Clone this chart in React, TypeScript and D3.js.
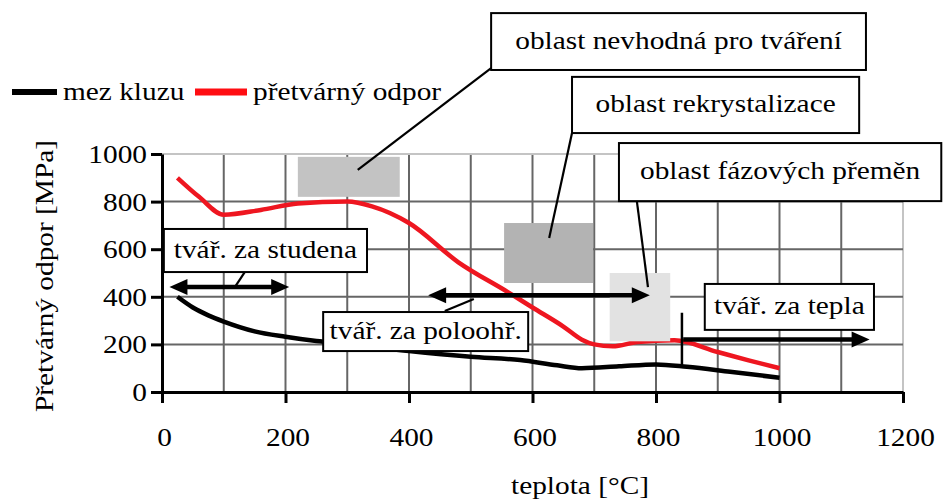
import React, { useEffect, useRef } from 'react'
import * as d3 from 'd3'

const W = 943
const H = 499

// teplota [°C], MPa
const mezKluzu: [number, number][] = [
    [25, 400], [50, 355], [75, 322], [100, 296], [150, 255], [200, 232], [250, 214], [300, 202],
    [400, 172], [500, 148], [580, 134], [640, 112], [680, 100], [740, 108], [800, 116], [850, 106],
    [920, 85], [1000, 60],
]
const pretvarnyOdpor: [number, number][] = [
    [25, 900], [60, 820], [100, 745], [160, 765], [220, 792], [300, 800], [340, 780], [400, 710],
    [480, 545], [560, 420], [600, 355], [650, 275], [680, 220], [700, 200], [730, 192], [770, 210],
    [830, 217], [900, 168], [950, 133], [1000, 100],
]

const xTicks = [0, 200, 400, 600, 800, 1000, 1200]
const yTicks = [0, 200, 400, 600, 800, 1000]

// shaded areas
const regionX = [[220, 385], [554, 698], [725, 823]]
const regionY = [[820, 988], [458, 710], [213, 500]]
const regionFill = ['#c3c3c3', '#b3b3b3', '#e2e2e2']

// callouts
const calloutLabels = ['oblast nevhodná pro tváření', 'oblast rekrystalizace', 'oblast fázových přeměn',
    'tvář. za studena', 'tvář. za poloohř.', 'tvář. za tepla']
const calloutX = [[533, 1140], [664, 1129], [740, 1262], [3, 332], [261, 593], [879, 1153]]
const calloutY = [[1353, 1592], [1088, 1324], [802, 1046], [504, 685], [172, 336], [261, 454]]

// leader lines [x1, y1, x2, y2]
const leaders = [
    [533, 1361, 317, 933], [664, 1088, 627, 647], [769, 802, 787, 441],
    [134, 504, 118, 441], [458, 340, 505, 391],
]

// arrows [x1, x2, y, twoHeads]
const arrows: [number, number, number, boolean][] = [
    [12, 206, 441, true], [431, 790, 406, true], [844, 1146, 221, false],
]
const warmMark = [842, 106, 333]

const FONT = '"Liberation Serif"'

const App = () => {
    const svgRef = useRef<SVGSVGElement>(null)

    useEffect(() => {
        const svg = d3.select(svgRef.current)
        svg.selectAll('*').remove()

        const fs = 25.5

        const x = d3.scaleLinear().domain([0, 1200]).range([162, 903])
        const y = d3.scaleLinear().domain([0, 1000]).range([392, 154])

        // grid
        svg.append('g').selectAll('line')
            .data(d3.range(100, 1201, 100))
            .join('line')
            .attr('x1', d => x(d)).attr('x2', d => x(d))
            .attr('y1', y(0)).attr('y2', y(1000))
            .attr('stroke', d => d === 1200 ? '#c4c4c4' : '#666')
            .attr('stroke-width', 2)
        svg.append('g').selectAll('line')
            .data(d3.range(200, 1001, 200))
            .join('line')
            .attr('x1', x(0)).attr('x2', x(1200))
            .attr('y1', d => y(d)).attr('y2', d => y(d))
            .attr('stroke', d => d === 1000 ? '#c4c4c4' : '#666')
            .attr('stroke-width', 2)

        // data lines
        const line = d3.line<[number, number]>()
            .x(d => x(d[0])).y(d => y(d[1]))
            .curve(d3.curveMonotoneX)
        svg.append('path').attr('d', line(mezKluzu)).attr('fill', 'none')
            .attr('stroke', '#000').attr('stroke-width', 4.5).attr('stroke-linejoin', 'round')
        svg.append('path').attr('d', line(pretvarnyOdpor)).attr('fill', 'none')
            .attr('stroke', '#ee1620').attr('stroke-width', 4.5).attr('stroke-linejoin', 'round')

        // shaded regions
        svg.append('g').selectAll('rect')
            .data(regionX)
            .join('rect')
            .attr('x', d => x(d[0]))
            .attr('width', d => x(d[1]) - x(d[0]))
            .attr('y', (d, i) => y(regionY[i][1]))
            .attr('height', (d, i) => y(regionY[i][0]) - y(regionY[i][1]))
            .attr('fill', (d, i) => regionFill[i])

        // axes
        const xAxis = svg.append('g')
            .attr('transform', `translate(0,${y(0)})`)
            .call(d3.axisBottom(x).tickValues(xTicks).tickSize(11).tickSizeOuter(0).tickFormat(d3.format('d')))
        const yAxis = svg.append('g')
            .attr('transform', `translate(${x(0)},0)`)
            .call(d3.axisLeft(y).tickValues(yTicks).tickSize(11).tickSizeOuter(0).tickFormat(d3.format('d')))
        for (const ax of [xAxis, yAxis]) {
            ax.attr('font-family', null).attr('font-size', null)
            ax.select('.domain').attr('stroke', '#000').attr('stroke-width', 3)
            ax.selectAll('.tick line').attr('stroke', '#000').attr('stroke-width', 3)
            ax.selectAll('.tick text').attr('class', 'st').attr('fill', '#000')
        }
        xAxis.selectAll('.tick text').attr('y', 54).attr('dy', 0).attr('dx', 2)
        yAxis.selectAll('.tick text').attr('x', -15).attr('dy', '0.33em')

        // arrows
        const head = 18, hw = 8
        arrows.forEach(([a, b, v, both]) => {
            const x1 = x(a), x2 = x(b), yy = y(v)
            svg.append('line')
                .attr('x1', both ? x1 + head - 2 : x1).attr('x2', x2 - head + 2)
                .attr('y1', yy).attr('y2', yy)
                .attr('stroke', '#000').attr('stroke-width', 4.5)
            svg.append('path')
                .attr('d', `M${x2},${yy}L${x2 - head},${yy - hw}L${x2 - head},${yy + hw}Z`)
                .attr('fill', '#000')
            if (both) {
                svg.append('path')
                    .attr('d', `M${x1},${yy}L${x1 + head},${yy - hw}L${x1 + head},${yy + hw}Z`)
                    .attr('fill', '#000')
            }
        })
        svg.append('line')
            .attr('x1', x(warmMark[0])).attr('x2', x(warmMark[0]))
            .attr('y1', y(warmMark[1])).attr('y2', y(warmMark[2]))
            .attr('stroke', '#000').attr('stroke-width', 2.5)

        // leader lines
        svg.append('g').selectAll('line')
            .data(leaders)
            .join('line')
            .attr('x1', d => x(d[0])).attr('y1', d => y(d[1]))
            .attr('x2', d => x(d[2])).attr('y2', d => y(d[3]))
            .attr('stroke', '#000').attr('stroke-width', 2.2)

        // callout boxes
        const co = svg.append('g').selectAll('g')
            .data(calloutLabels)
            .join('g')
        co.append('rect')
            .attr('x', (d, i) => x(calloutX[i][0]))
            .attr('width', (d, i) => x(calloutX[i][1]) - x(calloutX[i][0]))
            .attr('y', (d, i) => y(calloutY[i][1]))
            .attr('height', (d, i) => y(calloutY[i][0]) - y(calloutY[i][1]))
            .attr('fill', '#fff').attr('stroke', '#000').attr('stroke-width', 2)
        co.append('text')
            .attr('class', 'st')
            .attr('x', (d, i) => (x(calloutX[i][0]) + x(calloutX[i][1])) / 2)
            .attr('y', (d, i) => (y(calloutY[i][0]) + y(calloutY[i][1])) / 2 + 7)
            .attr('text-anchor', 'middle')
            .text(d => d)

        // legend
        const lg = svg.append('g')
        lg.append('line').attr('x1', 12).attr('x2', 57).attr('y1', 92).attr('y2', 92)
            .attr('stroke', '#000').attr('stroke-width', 6)
        lg.append('text').attr('class', 'st').attr('x', 63).attr('y', 100).text('mez kluzu')
        lg.append('line').attr('x1', 195).attr('x2', 247).attr('y1', 92).attr('y2', 92)
            .attr('stroke', '#ff0d12').attr('stroke-width', 7)
        lg.append('text').attr('class', 'st').attr('x', 253).attr('y', 100).text('přetvárný odpor')

        // axis titles
        svg.append('text').attr('class', 'st')
            .attr('transform', `translate(53,${(y(0) + y(1000)) / 2 + 3}) rotate(-90)`)
            .attr('text-anchor', 'middle')
            .text('Přetvárný odpor [MPa]')
        svg.append('text').attr('class', 'st')
            .attr('x', 580).attr('y', 494)
            .attr('text-anchor', 'middle')
            .text('teplota [°C]')

        // the source lettering is a bit wider than the font
        svg.selectAll<SVGTextElement, unknown>('text.st')
            .style('font-family', FONT)
            .style('font-size', `${fs}px`)
            .each(function () {
                const len = this.getComputedTextLength()
                d3.select(this).attr('textLength', len * 1.15).attr('lengthAdjust', 'spacingAndGlyphs')
            })
    }, [])

    return (
        <svg ref={svgRef} width={W} height={H}
            style={{ position: 'absolute', left: 0, top: 0, background: '#fff' }} />
    )
}

export default App
